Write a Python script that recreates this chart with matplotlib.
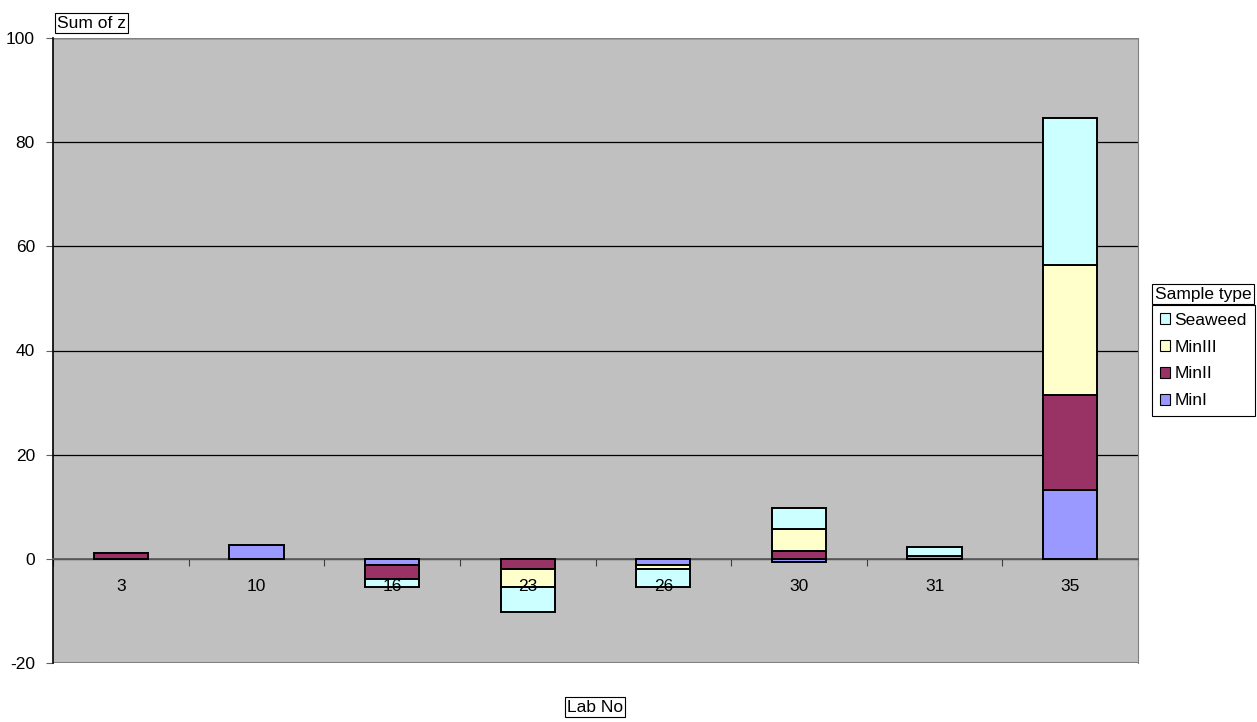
import numpy as np
import matplotlib
matplotlib.use('Agg')
import matplotlib.pyplot as plt
from matplotlib.patches import Patch

plt.rcParams['font.family'] = ['Liberation Sans', 'DejaVu Sans']
plt.rcParams['axes.unicode_minus'] = False

labs = ['3', '10', '16', '23', '26', '30', '31', '35']
series_names = ['MinI', 'MinII', 'MinIII', 'Seaweed']
min_i = [0, 2.7, -1.1, 0, -1.1, -0.7, 0.6, 13.3]
min_ii = [1.1, 0, -2.8, -2.0, 0, 1.5, 0, 18.1]
min_iii = [0, 0, 0, -3.5, -0.9, 4.3, 0, 25.0]
seaweed = [0, 0, -1.5, -4.7, -3.4, 4.0, 1.7, 28.2]
colors = ['#9999FF', '#993366', '#FFFFCC', '#CCFFFF']

FS = 12.5

fig = plt.figure(figsize=(12.57, 7.22), dpi=100)
ax = fig.add_axes([53 / 1257, 1 - 663 / 722, (1138 - 53) / 1257, (663 - 38) / 722])
ax.set_facecolor('#C0C0C0')

x = np.arange(len(labs))
pos_bottom = np.zeros(len(labs))
neg_bottom = np.zeros(len(labs))
for name, vals, col in zip(series_names, [min_i, min_ii, min_iii, seaweed], colors):
    vals = np.array(vals, dtype=float)
    for i, v in enumerate(vals):
        if v == 0:
            continue
        if v > 0:
            ax.bar(x[i], v, 0.4, bottom=pos_bottom[i], color=col,
                   edgecolor='black', linewidth=1.4, zorder=3)
            pos_bottom[i] += v
        else:
            ax.bar(x[i], v, 0.4, bottom=neg_bottom[i], color=col,
                   edgecolor='black', linewidth=1.4, zorder=3)
            neg_bottom[i] += v

ax.set_xlim(-0.5, len(labs) - 0.5)
ax.set_ylim(-20, 100)
ax.set_yticks(np.arange(-20, 101, 20))
ax.yaxis.grid(True, color='black', linewidth=0.9, zorder=1)
ax.set_axisbelow(True)

# category axis sits on the zero line, ticks between categories
ax.spines['bottom'].set_position(('data', 0))
ax.spines['bottom'].set_color('#606060')
ax.spines['bottom'].set_linewidth(1.3)
ax.set_xticks(np.arange(-0.5, len(labs), 1.0))
ax.set_xticklabels([])
ax.tick_params(axis='x', which='major', direction='out', length=5, color='#404040')
# labels drawn over the bars like in the original
for xi, lab in zip(x, labs):
    ax.annotate(lab, (xi, 0), xytext=(0, -20), textcoords='offset points',
                ha='center', va='center', fontsize=FS, zorder=5)

ax.tick_params(axis='y', direction='out', length=5, color='#606060', labelsize=FS, pad=8)

ax.spines['left'].set_color('black')
ax.spines['left'].set_linewidth(1.2)
ax.spines['top'].set_visible(False)
ax.spines['right'].set_color('#808080')

# plot area border
ax.axhline(-20, color='#808080', linewidth=1.5, zorder=2)
ax.axhline(100, color='#808080', linewidth=1.0, zorder=2)

box = dict(boxstyle='square,pad=0.12', facecolor='white', edgecolor='black', linewidth=0.8)
fig.text(57 / 1257, 1 - 23 / 722, 'Sum of z', fontsize=FS, va='center', ha='left', bbox=box)
fig.text(595 / 1257, 1 - 707 / 722, 'Lab No', fontsize=FS, va='center', ha='center', bbox=box)

# legend
fig.text(1155 / 1257, 1 - 294 / 722, 'Sample type', fontsize=FS, va='center', ha='left',
         bbox=dict(boxstyle='square,pad=0.15', facecolor='white', edgecolor='black', linewidth=0.8))
handles = [Patch(facecolor=c, edgecolor='black', linewidth=0.8) for c in colors[::-1]]
leg = fig.legend(handles, series_names[::-1], loc='upper left',
                 bbox_to_anchor=(1152 / 1257, 1 - 305 / 722), fontsize=FS,
                 frameon=True, fancybox=False, edgecolor='black', framealpha=1,
                 handlelength=0.6, handleheight=0.6, handletextpad=0.25,
                 labelspacing=0.68, borderpad=0.45, borderaxespad=0)
leg.get_frame().set_linewidth(0.8)

fig.savefig('out.png', dpi=100, facecolor='white')
